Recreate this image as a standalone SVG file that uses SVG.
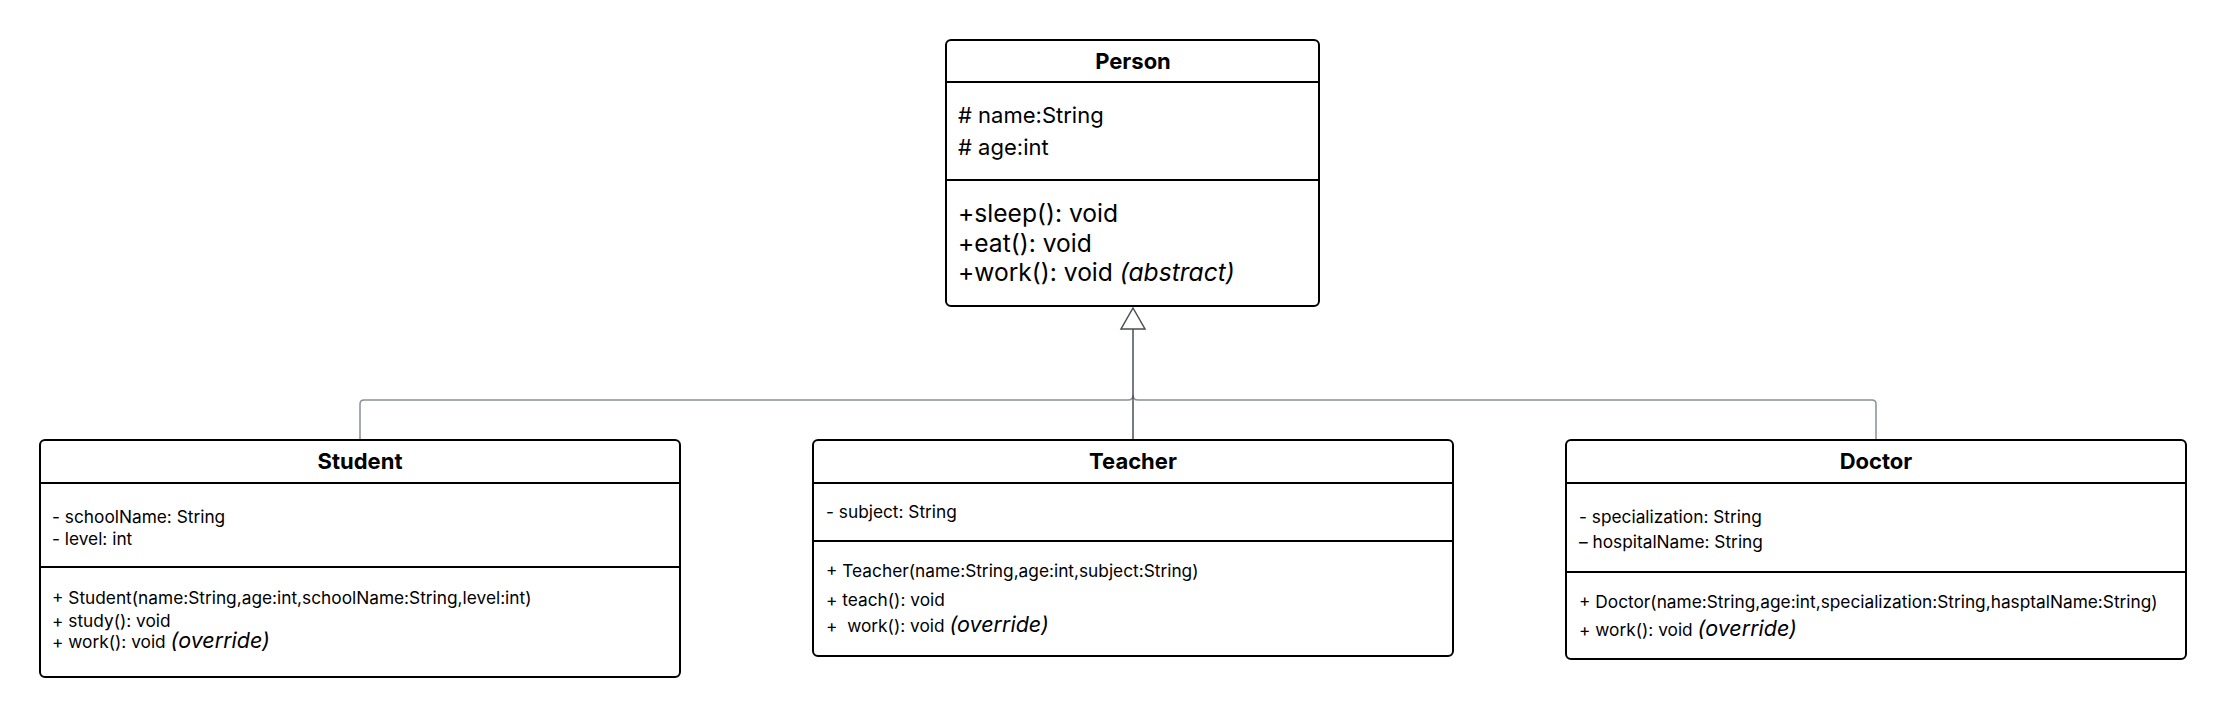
<svg xmlns="http://www.w3.org/2000/svg" width="2225" height="717" viewBox="0 0 2225 717">
<style>
.box{fill:#fff;stroke:#000;stroke-width:2}
.div{stroke:#000;stroke-width:2}
.title{font-family:Inter,"Liberation Sans",sans-serif;font-weight:bold;fill:#000;text-anchor:middle}
.t{font-family:Inter,"Liberation Sans",sans-serif;fill:#000}
.pt{font-size:22px}
.pm{font-size:24.6px}
.st{font-size:17.3px}
.it{font-style:italic;font-size:21.5px}
.branch{fill:none;stroke:#8b9097;stroke-width:1.5}
.stem{fill:none;stroke:#4a4f57;stroke-width:1.5}
</style>
<rect width="2225" height="717" fill="#fff"/>
<g id="connectors">
<path class="branch" d="M360 440 V404 Q360 400 364 400 H1128 Q1133 400 1133 395"/>
<path class="branch" d="M1876 440 V404 Q1876 400 1872 400 H1138 Q1133 400 1133 395"/>
<path class="stem" d="M1133 440 V329"/>
<path d="M1133 308 L1145 329 L1121 329 Z" fill="#fff" stroke="#4a4f57" stroke-width="1.5"/>
</g>
<g id="person">
<rect class="box" x="946" y="40" width="373" height="266" rx="5"/>
<line class="div" x1="946" y1="82" x2="1319" y2="82"/>
<line class="div" x1="946" y1="180" x2="1319" y2="180"/>
<text class="title" x="1133" y="69" font-size="22">Person</text>
<text class="t pt" x="958" y="123">#&#160;name:String</text>
<text class="t pt" x="958" y="155">#&#160;age:int</text>
<text class="t pm" x="958" y="222">+sleep(): void</text>
<text class="t pm" x="958" y="252">+eat(): void</text>
<text class="t pm" x="958" y="281">+work(): void <tspan font-style="italic">(abstract)</tspan></text>
</g>
<g id="student">
<rect class="box" x="40" y="440" width="640" height="237" rx="5"/>
<line class="div" x1="40" y1="483" x2="680" y2="483"/>
<line class="div" x1="40" y1="567" x2="680" y2="567"/>
<text class="title" x="360" y="469" font-size="22">Student</text>
<text class="t st" x="52" y="523">- schoolName: String</text>
<text class="t st" x="52" y="545">- level: int</text>
<text class="t st" x="52" y="604">+ Student(name:String,age:int,schoolName:String,level:int)</text>
<text class="t st" x="52" y="627">+ study(): void</text>
<text class="t st" x="52" y="648">+ work(): void <tspan class="it">(override)</tspan></text>
</g>
<g id="teacher">
<rect class="box" x="813" y="440" width="640" height="216" rx="5"/>
<line class="div" x1="813" y1="483" x2="1453" y2="483"/>
<line class="div" x1="813" y1="541" x2="1453" y2="541"/>
<text class="title" x="1133" y="469" font-size="22">Teacher</text>
<text class="t st" x="826" y="518">- subject: String</text>
<text class="t st" x="826" y="577">+ Teacher(name:String,age:int,subject:String)</text>
<text class="t st" x="826" y="606">+ teach(): void</text>
<text class="t st" x="826" y="632">+&#160; work(): void <tspan class="it">(override)</tspan></text>
</g>
<g id="doctor">
<rect class="box" x="1566" y="440" width="620" height="219" rx="5"/>
<line class="div" x1="1566" y1="483" x2="2186" y2="483"/>
<line class="div" x1="1566" y1="572" x2="2186" y2="572"/>
<text class="title" x="1876" y="469" font-size="22">Doctor</text>
<text class="t st" x="1579" y="523">- specialization: String</text>
<text class="t st" x="1579" y="548">– hospitalName: String</text>
<text class="t st" x="1579" y="608">+ Doctor(name:String,age:int,specialization:String,hasptalName:String)</text>
<text class="t st" x="1579" y="636">+ work(): void <tspan class="it">(override)</tspan></text>
</g>
</svg>
